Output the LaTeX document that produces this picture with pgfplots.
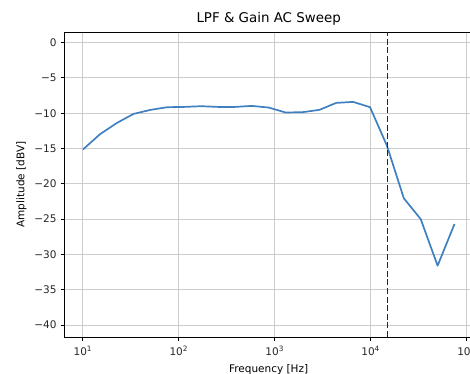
\documentclass[border=0pt]{standalone}
\usepackage{pgfplots}
\pgfplotsset{compat=1.18}
\usepackage{fontspec}
\setmainfont{DejaVu Sans}
\definecolor{lineblue}{RGB}{62,128,192}
\definecolor{gridgray}{RGB}{205,205,205}
\begin{document}
\begin{tikzpicture}[x=1pt,y=1pt]
\useasboundingbox (0,0) rectangle (470,373);
\clip (0,0) rectangle (470,373);
\begin{axis}[
  at={(64.3pt,36pt)}, anchor=south west,
  scale only axis, width=408.7pt, height=305pt,
  xmode=log, log basis x=10,
  xmin=6.4, xmax=116700,
  ymin=-41.7, ymax=1.5,
  xtick={10,100,1000,10000,100000},
  xticklabels={10\textsuperscript{1},10\textsuperscript{2},10\textsuperscript{3},10\textsuperscript{4},10\textsuperscript{5}},
  ytick={-40,-35,-30,-25,-20,-15,-10,-5,0},
  yticklabels={−40,−35,−30,−25,−20,−15,−10,−5,0},
  tick label style={font=\fontsize{10.5}{12}\selectfont, text=black!85},
  xtick pos=bottom, ytick pos=left,
  tick align=outside,
  major tick length=3.8pt, minor tick length=2.2pt,
  every tick/.style={black, line width=0.85pt},
  every minor tick/.style={black, line width=0.65pt},
  xticklabel style={yshift=-2pt},
  yticklabel style={xshift=-0.5pt},
  grid=major,
  major grid style={gridgray, line width=0.9pt},
  axis line style={black, line width=0.9pt},
  title={LPF \& Gain AC Sweep},
  title style={font=\fontsize{13.4}{15}\selectfont, yshift=-3pt},
  xlabel={Frequency [Hz]},
  ylabel={Amplitude [dBV]},
  label style={font=\fontsize{10.5}{12}\selectfont},
  ylabel style={yshift=1pt},
  xlabel style={yshift=-2pt},
]
\addplot[lineblue, line width=1.7pt, line join=round] coordinates {
(10,-15.15) (15,-13.0) (22.5,-11.4) (33.75,-10.1) (50.63,-9.53)
(75.94,-9.15) (113.9,-9.11) (170.9,-9.01) (256.3,-9.11) (384.4,-9.11)
(576.7,-8.97) (865.0,-9.2) (1297.5,-9.9) (1946.2,-9.86) (2919.3,-9.53)
(4379.0,-8.54) (6568.4,-8.4) (9852.6,-9.15) (14779,-14.6) (22168,-22.05)
(33253,-25.0) (49879,-31.6) (74818,-25.7)
};
\addplot[black!85, line width=1.7pt, dash pattern=on 6pt off 2.6pt] coordinates {(15000,-41.7) (15000,1.5)};
\end{axis}
\end{tikzpicture}
\end{document}
